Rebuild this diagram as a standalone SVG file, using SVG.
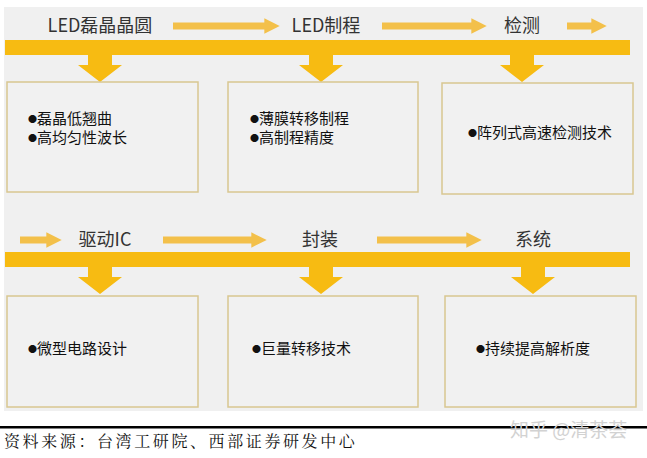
<svg xmlns="http://www.w3.org/2000/svg" width="647" height="458" viewBox="0 0 647 458">
<style>
.lbl{font-family:"Noto Sans CJK SC","Noto Sans",sans-serif;font-size:18px;fill:#333;}
.txt{font-family:"Noto Sans CJK SC","Noto Sans",sans-serif;font-size:15px;fill:#111;}
.b{font-size:9px;}
.box{fill:#f1f1f1;stroke:#d8c690;stroke-width:1.5;}
.bar{fill:#f7bb12;}
.thin{stroke:#f3c04a;stroke-width:7;fill:none;}
.src{font-family:"Noto Serif CJK SC","Noto Sans CJK SC",serif;font-size:16px;fill:#111;letter-spacing:2.6px;}
.wm{font-family:"Noto Sans CJK SC",sans-serif;font-size:19px;fill:#d2d2d2;}
</style>
<defs>
<marker id="ah" viewBox="0 0 10 10" refX="5" refY="5" markerWidth="2.2" markerHeight="2.4" orient="auto" markerUnits="strokeWidth">
<path d="M0,0 L10,5 L0,10 z" fill="#f3c04a"/>
</marker>
<path id="down" d="M-12,0 L12,0 L12,10 L22,10 L0,27 L-22,10 L-12,10 z"/>
</defs>
<rect width="647" height="458" fill="#fff"/>
<rect x="4" y="7" width="639" height="404" fill="#f0f0f0"/>

<g id="connectors">
<rect class="bar" x="5" y="40" width="625" height="15"/>
<rect class="bar" x="5" y="252" width="625" height="15"/>
<use href="#down" x="100" y="55" class="bar"/>
<use href="#down" x="321" y="55" class="bar"/>
<use href="#down" x="522" y="55" class="bar"/>
<use href="#down" x="100" y="267" class="bar"/>
<use href="#down" x="321" y="267" class="bar"/>
<use href="#down" x="533" y="267" class="bar"/>
<line class="thin" x1="173" y1="26" x2="272" y2="26" marker-end="url(#ah)"/>
<line class="thin" x1="382" y1="26" x2="479" y2="26" marker-end="url(#ah)"/>
<line class="thin" x1="567" y1="26" x2="599" y2="26" marker-end="url(#ah)"/>
<line class="thin" x1="20" y1="240" x2="54" y2="240" marker-end="url(#ah)"/>
<line class="thin" x1="163" y1="240" x2="259" y2="240" marker-end="url(#ah)"/>
<line class="thin" x1="377" y1="240" x2="474" y2="240" marker-end="url(#ah)"/>
</g>

<g id="stage-wafer"><text class="lbl" x="100" y="32" text-anchor="middle">LED磊晶晶圆</text></g>
<g id="stage-process"><text class="lbl" x="326" y="32" text-anchor="middle">LED制程</text></g>
<g id="stage-test"><text class="lbl" x="522" y="32" text-anchor="middle">检测</text></g>
<g id="stage-ic"><text class="lbl" x="105" y="246" text-anchor="middle">驱动IC</text></g>
<g id="stage-pack"><text class="lbl" x="320" y="246" text-anchor="middle">封装</text></g>
<g id="stage-sys"><text class="lbl" x="533" y="246" text-anchor="middle">系统</text></g>

<g id="box-wafer">
<rect class="box" x="7" y="82" width="191" height="110"/>
<text class="txt" x="28" y="124"><tspan class="b" dy="-2">●</tspan><tspan dy="2">磊晶低翘曲</tspan></text>
<text class="txt" x="28" y="143"><tspan class="b" dy="-2">●</tspan><tspan dy="2">高均匀性波长</tspan></text>
</g>
<g id="box-process">
<rect class="box" x="228" y="82" width="190" height="110"/>
<text class="txt" x="250" y="124"><tspan class="b" dy="-2">●</tspan><tspan dy="2">薄膜转移制程</tspan></text>
<text class="txt" x="250" y="143"><tspan class="b" dy="-2">●</tspan><tspan dy="2">高制程精度</tspan></text>
</g>
<g id="box-test">
<rect class="box" x="442" y="83" width="191" height="111"/>
<text class="txt" x="468" y="138"><tspan class="b" dy="-2">●</tspan><tspan dy="2">阵列式高速检测技术</tspan></text>
</g>
<g id="box-ic">
<rect class="box" x="7" y="296" width="191" height="111"/>
<text class="txt" x="28" y="354"><tspan class="b" dy="-2">●</tspan><tspan dy="2">微型电路设计</tspan></text>
</g>
<g id="box-pack">
<rect class="box" x="228" y="296" width="190" height="111"/>
<text class="txt" x="252" y="354"><tspan class="b" dy="-2">●</tspan><tspan dy="2">巨量转移技术</tspan></text>
</g>
<g id="box-sys">
<rect class="box" x="445" y="296" width="191" height="111"/>
<text class="txt" x="476" y="354"><tspan class="b" dy="-2">●</tspan><tspan dy="2">持续提高解析度</tspan></text>
</g>

<rect x="0" y="426" width="647" height="2.5" fill="#000"/>
<text class="wm" x="510" y="437">知乎 @清茶荟</text>
<text class="src" x="4" y="447">资料来源：台湾工研院、西部证券研发中心</text>
</svg>
